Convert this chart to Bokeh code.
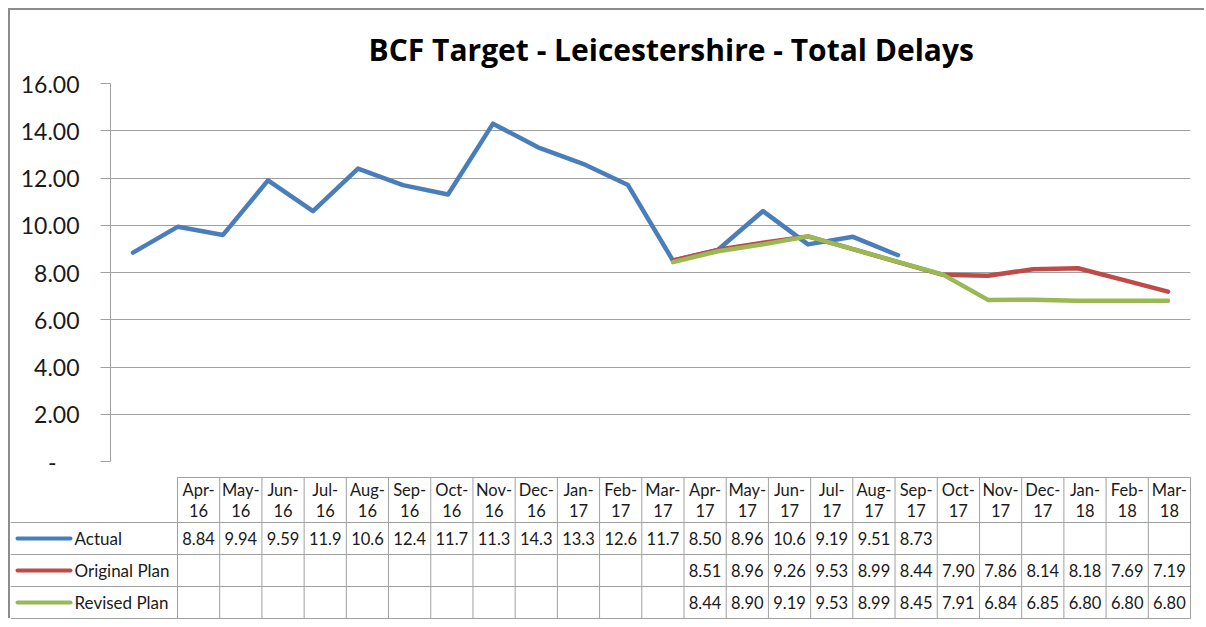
from bokeh.plotting import figure
from bokeh.models import FactorRange, Range1d, FixedTicker, NumeralTickFormatter
from bokeh.layouts import column
from bokeh.core.properties import value
from bokeh.embed import file_html
from bokeh.resources import INLINE

# ---------------- data ----------------
months = ["Apr-16", "May-16", "Jun-16", "Jul-16", "Aug-16", "Sep-16", "Oct-16", "Nov-16",
          "Dec-16", "Jan-17", "Feb-17", "Mar-17", "Apr-17", "May-17", "Jun-17", "Jul-17",
          "Aug-17", "Sep-17", "Oct-17", "Nov-17", "Dec-17", "Jan-18", "Feb-18", "Mar-18"]
actual = [8.84, 9.94, 9.59, 11.9, 10.6, 12.4, 11.7, 11.3, 14.3, 13.3, 12.6, 11.7,
          8.50, 8.96, 10.6, 9.19, 9.51, 8.73]
original_plan = [8.51, 8.96, 9.26, 9.53, 8.99, 8.44, 7.90, 7.86, 8.14, 8.18, 7.69, 7.19]
revised_plan = [8.44, 8.90, 9.19, 9.53, 8.99, 8.45, 7.91, 6.84, 6.85, 6.80, 6.80, 6.80]
plan_start = 12  # Apr-17
series_names = ["Actual", "Original Plan", "Revised Plan"]
series_colors = ["#4A7EBB", "#BE4B48", "#98B954"]
y_ticks = [0, 2, 4, 6, 8, 10, 12, 14, 16]
title_text = "BCF Target - Leicestershire - Total Delays"

FONT = "Lato"
GRID = "#a0a0a0"
TXT = "#1a1a1a"
W = 1196

# ---------------- chart ----------------
p = figure(width=W, height=466, x_range=FactorRange(*months), y_range=Range1d(0, 16),
           output_backend="svg", toolbar_location=None,
           min_border_left=100, min_border_right=16, min_border_top=73, min_border_bottom=15)
p.frame_align = False
p.outline_line_color = None
p.title.text = title_text
p.title.text_font = "Open Sans"
p.title.text_font_style = "bold"
p.title.text_font_size = "30px"
p.title.text_color = "#000000"
p.title.align = "left"
p.title.offset = 258
p.title.standoff = 27

p.xaxis.visible = False
p.xgrid.grid_line_color = None
p.ygrid.grid_line_color = GRID
p.ygrid.grid_line_width = 1
yax = p.yaxis[0]
yax.ticker = FixedTicker(ticks=y_ticks)
yax.formatter = NumeralTickFormatter(format="0.00")
yax.major_label_overrides = {0: "-\u2002\u2002"}
yax.major_label_text_font = FONT
yax.major_label_text_font_size = "23px"
yax.major_label_text_color = TXT
yax.major_label_standoff = 21
yax.axis_line_color = GRID
yax.major_tick_line_color = GRID
yax.major_tick_out = 10
yax.major_tick_in = 0
yax.minor_tick_line_color = None

series_data = [actual, original_plan, revised_plan]
series_offsets = [0, plan_start, plan_start]
for vals, off, col in zip(series_data, series_offsets, series_colors):
    p.line(months[off:off + len(vals)], vals, line_color=col, line_width=4.5,
           line_join="round", line_cap="round")

# ---------------- data table ----------------
n = len(months)
COL_PX = 1013 / n          # width of one month column
LEG_PX = 167               # legend column width
ROW_PX = 32
x0 = -LEG_PX / COL_PX
header_h = 45 / ROW_PX
t = figure(width=W, height=144,
           x_range=Range1d(x0, x0 + W / COL_PX),
           y_range=Range1d(-2 / ROW_PX, 142 / ROW_PX),
           output_backend="svg", toolbar_location=None,
           min_border_left=0, min_border_right=0, min_border_top=0, min_border_bottom=0)
t.frame_align = False
t.outline_line_color = None
t.axis.visible = False
t.grid.grid_line_color = None

nrows = len(series_names)
top = nrows + header_h
# horizontal rules
hx0 = [x0] * (nrows + 1) + [0]
hx1 = [n] * (nrows + 2)
hy = list(range(nrows + 1)) + [top]
t.segment(x0=hx0, y0=hy, x1=hx1, y1=hy, line_color=GRID, line_width=1)
# vertical rules
vx = list(range(n + 1))
t.segment(x0=vx, y0=[0] * (n + 1), x1=vx, y1=[top] * (n + 1), line_color=GRID, line_width=1)

# header text
xc = [i + 0.5 for i in range(n)]
t.text(x=xc, y=[nrows + 1.02] * n, text=[m.split("-")[0] + "-" for m in months],
       text_font=value(FONT), text_font_size="16.5px", text_color=TXT,
       text_align="center", text_baseline="middle")
t.text(x=xc, y=[nrows + 0.36] * n, text=[m.split("-")[1] for m in months],
       text_font=value(FONT), text_font_size="16.5px", text_color=TXT,
       text_align="center", text_baseline="middle")

def fmt(v):
    return f"{v:.2f}" if v < 10 else f"{v:.1f}"

for r, (name, vals, off, col) in enumerate(zip(series_names, series_data, series_offsets, series_colors)):
    yc = nrows - r - 0.5
    t.text(x=[off + j + 0.5 for j in range(len(vals))], y=[yc] * len(vals),
           text=[fmt(v) for v in vals], text_font=value(FONT), text_font_size="16.5px",
           text_color=TXT, text_align="center", text_baseline="middle")
    t.segment(x0=[x0 + 7 / COL_PX], y0=[yc], x1=[x0 + 60 / COL_PX], y1=[yc],
              line_color=col, line_width=4, line_cap="round")
    t.text(x=[x0 + 64 / COL_PX], y=[yc], text=[name], text_font=value(FONT),
           text_font_size="17px", text_color=TXT, text_align="left", text_baseline="middle")

layout = column(p, t, spacing=0, margin=(10, 0, 0, 10),
                styles={"box-shadow": "-2px -2px 0 0 #8c8c8c"})

open("out.html", "w").write(file_html(layout, INLINE))
